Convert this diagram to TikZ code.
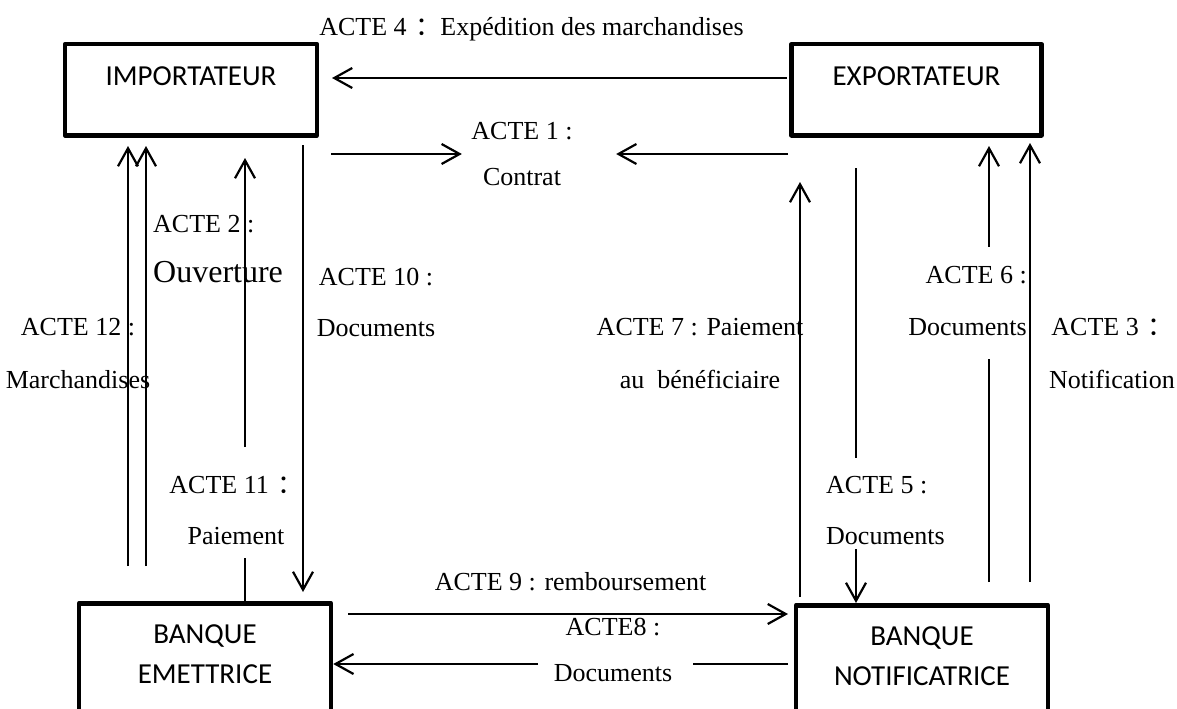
\documentclass[tikz,border=0pt]{standalone}
\usepackage{fontspec}
\setmainfont{Liberation Serif}
\newfontfamily\boxfont{Carlito}
\newfontfamily\cjk{Noto Sans CJK SC}
\usetikzlibrary{arrows.meta}
\newcommand{\wcolon}{\makebox[1.3em][l]{\hspace{0.35em}{\cjk ：}}}

\begin{document}
\begin{tikzpicture}[x=1bp, y=-1bp,
  box/.style={draw, line width=4.5bp, line join=round, anchor=north, minimum width=252bp, inner xsep=0pt},
  topbox/.style={box, inner ysep=22.65bp, text height=18.7bp, text depth=27bp, font=\boxfont\fontsize{29bp}{35bp}\selectfont},
  bankbox/.style={box, align=center, inner ysep=21.4bp, font=\boxfont\fontsize{29bp}{40bp}\selectfont},
  lbl/.style={inner sep=2bp, align=center, font=\fontsize{26bp}{#1}\selectfont},
  lbl/.default=31bp,
  link/.style={line width=2.2bp},
  arr/.style={link, -{Straight Barb[length=18bp, width=20bp]}}]
\useasboundingbox (0,0) rectangle (1177,709);

% the four parties
\node[topbox] (importateur) at (191,42) {IMPORTATEUR};
\node[topbox, minimum width=250bp] (exportateur) at (916.5,42) {EXPORTATEUR};
\node[bankbox] (emettrice) at (205,601) {BANQUE\\EMETTRICE\\~};
\node[bankbox] (notificatrice) at (922,603) {BANQUE\\NOTIFICATRICE\\~};

% columns and rows of the links
\foreach \n/\x in {k12a/128, k12b/146, k2/245, k10/303, k7/800, k5/856, k6/989, k3/1030}
  \coordinate (\n) at (\x,0);
\foreach \n/\y in {r4/78, r9/614, r8/664}
  \coordinate (\n) at (0,\y);
\coordinate (c1l) at (331,154);
\coordinate (c1r) at (788,154);

% labels
\node[lbl, anchor=base] (l4) at (531.5,35.6) {ACTE 4\wcolon Expédition des marchandises};
\node[lbl=46bp] (l1) at (522,154) {ACTE 1 :\\Contrat};
\node[lbl=50bp, align=left, anchor=west] (l2) at (151,249) {ACTE 2 :\\{\fontsize{32bp}{50bp}\selectfont Ouverture}};
\node[lbl=51bp] (l10) at (376,302.5) {ACTE 10 :\\Documents};
\node[lbl=53bp] (l12) at (78,353.5) {ACTE 12 :\\Marchandises};
\node[lbl=53bp] (l7) at (700,353.5) {ACTE 7 : Paiement\\au~ bénéficiaire};
\node[lbl=52bp, align=right, anchor=east] (l6) at (1029,301) {ACTE 6 :\\Documents};
\node[lbl=53bp] (l3) at (1112,353.5) {ACTE 3\wcolon\\Notification};
\node[lbl=51bp] (l11) at (236,510.5) {ACTE 11\wcolon\\Paiement};
\node[lbl=51bp, align=left, anchor=west] (l5) at (824,510.5) {ACTE 5 :\\Documents};
\node[lbl, anchor=base] (l9) at (570.5,590.6) {ACTE 9 : remboursement};
\node[lbl=46bp] (l8) at (613,650) {ACTE8 :\\Documents};

% horizontal links
\draw[arr, shorten <=2.5bp, shorten >=12.75bp] (exportateur.west |- r4) -- (importateur.east |- r4);
\draw[arr, shorten >=7.4bp] (c1l) -- (l1);
\draw[arr, shorten >=41.4bp] (c1r) -- (l1);
\draw[arr, shorten <=14.75bp, shorten >=5.75bp] (emettrice.east |- r9) -- (notificatrice.west |- r9);
\draw[link, shorten <=5.75bp, shorten >=359.75bp] (notificatrice.west |- r8) -- (emettrice.east |- r8);
\draw[arr, shorten <=255.75bp] (notificatrice.west |- r8) -- (emettrice.east |- r8);

% vertical links, left side
\draw[arr, shorten <=35bp, shorten >=8.5bp] (emettrice.north -| k12a) -- (importateur.south -| k12a);
\draw[arr, shorten <=35bp, shorten >=8.5bp] (emettrice.north -| k12b) -- (importateur.south -| k12b);
\draw[arr, shorten <=154bp, shorten >=20.5bp] (emettrice.north -| k2) -- (importateur.south -| k2);
\draw[link, line width=1.6bp, shorten >=420.5bp] (emettrice.north -| k2) -- (importateur.south -| k2);
\draw[arr, shorten <=7.5bp, shorten >=9bp] (importateur.south -| k10) -- (emettrice.north -| k10);

% vertical links, right side
\draw[arr, shorten <=6bp, shorten >=44.5bp] (notificatrice.north -| k7) -- (exportateur.south -| k7);
\draw[link, shorten <=30.5bp, shorten >=145bp] (exportateur.south -| k5) -- (notificatrice.north -| k5);
\draw[arr, shorten <=411.5bp] (exportateur.south -| k5) -- (notificatrice.north -| k5);
\draw[link, shorten <=21bp, shorten >=221.5bp] (notificatrice.north -| k6) -- (exportateur.south -| k6);
\draw[arr, shorten <=356bp, shorten >=8.5bp] (notificatrice.north -| k6) -- (exportateur.south -| k6);
\draw[arr, shorten <=21bp, shorten >=5.5bp] (notificatrice.north -| k3) -- (exportateur.south -| k3);

\end{tikzpicture}
\end{document}
